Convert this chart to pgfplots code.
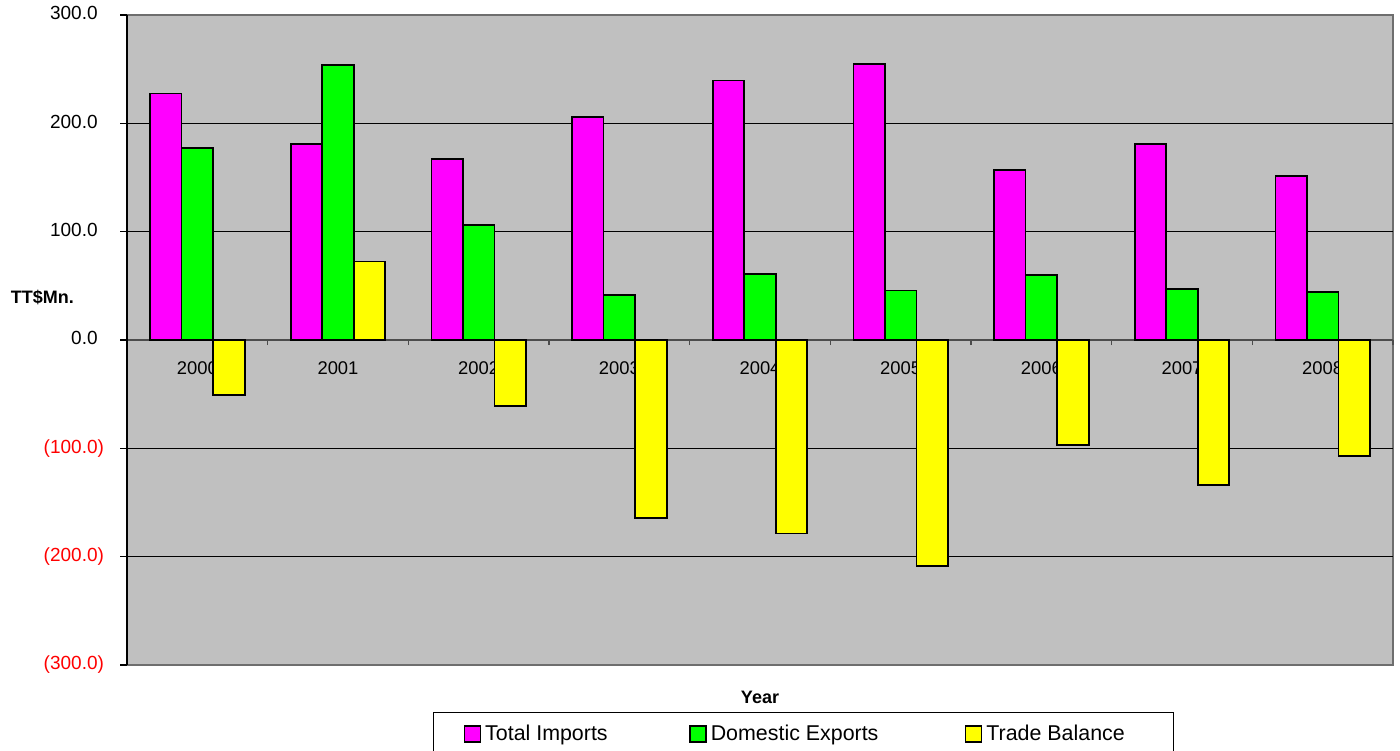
\documentclass[border=0pt]{standalone}
\usepackage{fontspec}
\setmainfont{Liberation Sans}
\usepackage{pgfplots}
\usepackage{pgfplotstable}
\pgfplotsset{compat=1.18}

\definecolor{plotbg}{RGB}{192,192,192}
\definecolor{impcol}{RGB}{255,0,255}
\definecolor{expcol}{RGB}{0,255,0}
\definecolor{balcol}{RGB}{255,255,0}
\definecolor{framecol}{RGB}{110,110,110}

% Trade figures, TT$ million
\pgfplotstableread{
x  imports  exports  balance
0  227.6    177.2    -50.4
1  181.2    253.6     72.4
2  167.1    105.9    -61.2
3  206.0     41.6   -164.4
4  239.5     60.9   -178.6
5  254.5     45.7   -208.8
6  156.7     60.0    -96.7
7  181.0     47.1   -133.9
8  151.2     44.2   -107.0
}\tradedata

\newcommand{\negval}[1]{\textcolor{red}{(#1)}}
\newcommand{\posval}[1]{#1\phantom{)}}

\begin{document}
\begin{tikzpicture}
\begin{axis}[
  at={(63.5pt,42.5pt)}, anchor=south west,
  scale only axis, width=633pt, height=325pt,
  set layers=standard,
  xmin=-0.5, xmax=8.5, ymin=-300, ymax=300,
  axis x line=middle, axis y line=left,
  axis line style={-},
  x axis line style={black!70, line width=0.8pt},
  y axis line style={black, line width=0.8pt},
  axis background/.style={fill=plotbg, draw=framecol, line width=1pt},
  ytick={-300,-200,...,300},
  yticklabels={\negval{300.0},\negval{200.0},\negval{100.0},\posval{0.0},\posval{100.0},\posval{200.0},\posval{300.0}},
  yticklabel style={font=\fontsize{9.5}{11}\selectfont, xshift=-4.5pt},
  % horizontal gridlines inside the frame only
  extra y ticks={-200,-100,0,100,200},
  extra y tick labels={},
  extra y tick style={grid=major, major tick length=0pt},
  grid style={black, line width=0.6pt},
  xtick={0,...,8},
  xticklabels={2000,2001,2002,2003,2004,2005,2006,2007,2008},
  xticklabel style={font=\fontsize{9.2}{10}\selectfont, yshift=-4pt},
  major x tick style={draw=none},
  minor xtick={-0.5,0.5,...,8.5},
  minor x tick style={black!70, line width=0.7pt},
  minor tick length=2.5pt,
  major tick length=3.5pt,
  y tick style={black, line width=0.7pt},
  tick align=outside,
  ybar=0pt, bar width=0.224,
  every axis plot/.append style={draw=black, line width=0.9pt},
  ylabel={TT\$Mn.},
  every axis y label/.style={at={(axis description cs:0,0.565)}, anchor=east, xshift=-23pt,
    font=\bfseries\fontsize{9}{10}\selectfont},
  xlabel={Year},
  every axis x label/.style={at={(axis description cs:0.5,0)}, anchor=center, yshift=-16.3pt,
    font=\bfseries\fontsize{9}{10}\selectfont},
  legend columns=3,
  legend image code/.code={\draw[#1, line width=0.8pt] (0pt,-4pt) rectangle (8pt,4pt);},
  legend style={at={(axis description cs:0.2417,0)}, anchor=north west, yshift=-23.5pt,
    draw=black, line width=0.6pt, fill=white,
    font=\fontsize{10.7}{12}\selectfont,
    inner xsep=15pt, inner ysep=4pt, column sep=0pt},
]
\addplot[fill=impcol] table[x=x, y=imports] {\tradedata};
\addlegendentry{\makebox[100pt][l]{Total Imports}}
\addplot[fill=expcol] table[x=x, y=exports] {\tradedata};
\addlegendentry{\makebox[125pt][l]{Domestic Exports}}
\addplot[fill=balcol] table[x=x, y=balance] {\tradedata};
\addlegendentry{\makebox[76.5pt][l]{Trade Balance}}
\end{axis}
\pgfresetboundingbox
\path[use as bounding box] (0,0) rectangle (700pt,375pt);
\end{tikzpicture}
\end{document}
